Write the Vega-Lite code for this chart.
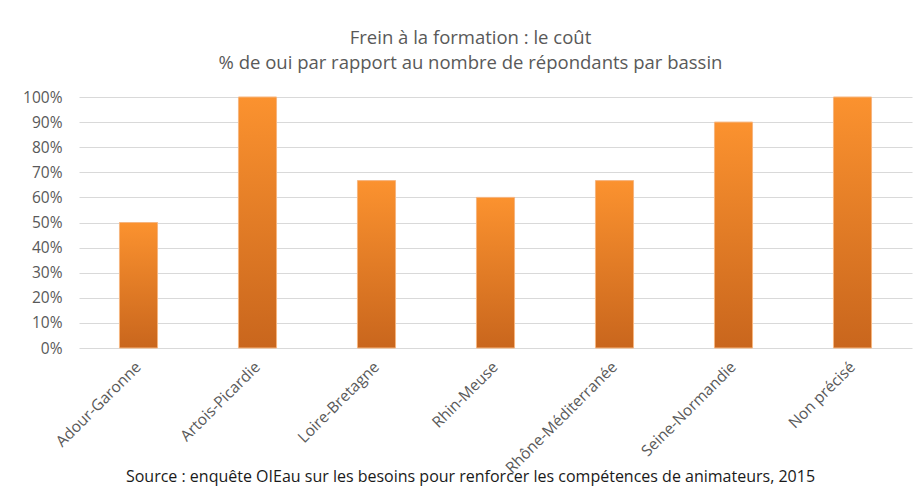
{
  "$schema": "https://vega.github.io/schema/vega-lite/v6.json",
  "width": 833,
  "height": 251,
  "autosize": {"type": "none"},
  "padding": {"left": 79, "top": 97, "right": 6, "bottom": 138},
  "background": "white",
  "title": {
    "text": ["Frein à la formation : le coût", "% de oui par rapport au nombre de répondants par bassin"],
    "font": "Open Sans",
    "fontSize": 18.5,
    "fontWeight": "normal",
    "color": "#595959",
    "lineHeight": 25,
    "anchor": "middle",
    "frame": "group",
    "dx": -25,
    "offset": 18
  },
  "data": {
    "values": [
      {"bassin": "Adour-Garonne", "pct": 0.5},
      {"bassin": "Artois-Picardie", "pct": 1.0},
      {"bassin": "Loire-Bretagne", "pct": 0.667},
      {"bassin": "Rhin-Meuse", "pct": 0.6},
      {"bassin": "Rhône-Méditerranée", "pct": 0.667},
      {"bassin": "Seine-Normandie", "pct": 0.9},
      {"bassin": "Non précisé", "pct": 1.0}
    ]
  },
  "mark": {
    "type": "bar",
    "stroke": "#f6b57f",
    "strokeWidth": 1,
    "color": {
      "gradient": "linear",
      "x1": 0, "y1": 0, "x2": 0, "y2": 1,
      "stops": [
        {"offset": 0, "color": "#fb922f"},
        {"offset": 1, "color": "#c9661d"}
      ]
    }
  },
  "encoding": {
    "x": {
      "field": "bassin",
      "type": "nominal",
      "sort": null,
      "scale": {"paddingInner": 0.68, "paddingOuter": 0.34},
      "axis": {
        "title": "Source : enquête OIEau sur les besoins pour renforcer les compétences de animateurs, 2015",
        "titleFont": "Open Sans",
        "titleFontSize": 16,
        "titleFontWeight": "normal",
        "titleColor": "#1a1a1a",
        "titleX": 391,
        "titleY": 133,
        "titleAnchor": "middle",
        "titleAlign": "center",
        "titleBaseline": "alphabetic",
        "labelAngle": -45,
        "labelAlign": "right",
        "labelBaseline": "middle",
        "labelFont": "Open Sans",
        "labelFontSize": 15.5,
        "labelColor": "#595959",
        "labelPadding": 16,
        "labelOverlap": false,
        "labelLimit": 300,
        "ticks": false,
        "domain": false
      }
    },
    "y": {
      "field": "pct",
      "type": "quantitative",
      "scale": {"domain": [0, 1]},
      "axis": {
        "title": null,
        "format": ".0%",
        "values": [0, 0.1, 0.2, 0.3, 0.4, 0.5, 0.6, 0.7, 0.8, 0.9, 1.0],
        "labelFont": "Open Sans",
        "labelFontSize": 15.5,
        "labelColor": "#595959",
        "labelPadding": 17,
        "ticks": false,
        "domain": false,
        "grid": true,
        "gridColor": "#d9d9d9",
        "gridWidth": 1
      }
    }
  },
  "config": {
    "view": {"stroke": null}
  }
}
